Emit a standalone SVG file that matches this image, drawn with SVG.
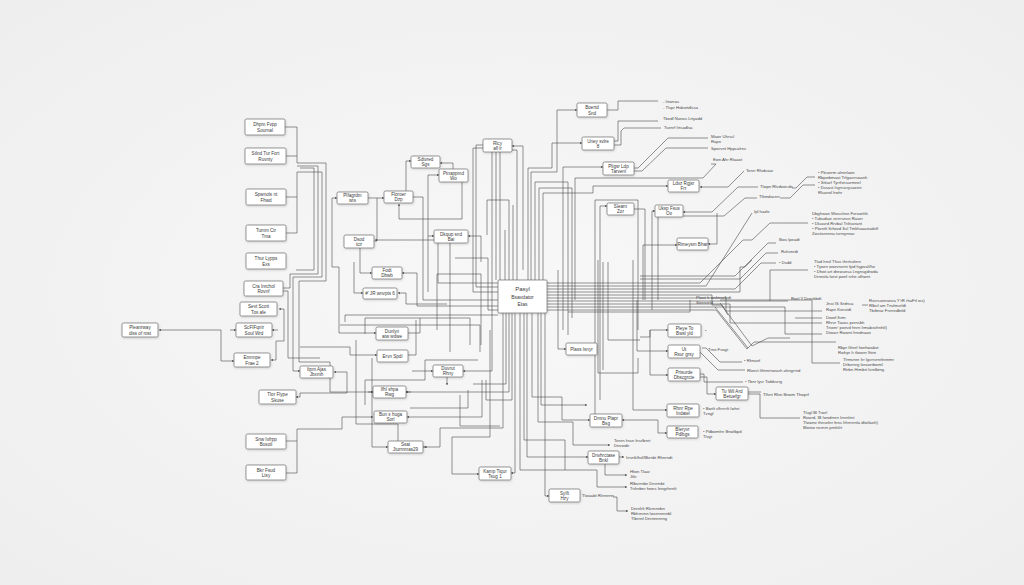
<svg xmlns="http://www.w3.org/2000/svg" width="1024" height="585" viewBox="0 0 1024 585">
<defs>
<marker id="a" viewBox="0 0 6 6" refX="5.5" refY="3" markerWidth="4" markerHeight="4" orient="auto-start-reverse"><path d="M0,0.6 L6,3 L0,5.4z" fill="#444"/></marker>
<filter id="sh" x="-20%" y="-30%" width="140%" height="170%"><feDropShadow dx="0.6" dy="1" stdDeviation="0.8" flood-color="#000" flood-opacity="0.16"/></filter>
<radialGradient id="bg" cx="50%" cy="50%" r="70%"><stop offset="0" stop-color="#f8f8f8"/><stop offset="1" stop-color="#eeeeee"/></radialGradient>
<style>
.n rect{fill:#fff;stroke:#6a6a6a;stroke-width:0.7;filter:url(#sh)}
.n text{font-family:"Liberation Sans",Arial,sans-serif;font-size:4.6px;fill:#3a3a3a;text-anchor:middle}
.c path{fill:none;stroke:#4a4a4a;stroke-width:0.6}
.c .a{marker-end:url(#a)}
.c .b{marker-start:url(#a)}
.l text{font-family:"Liberation Sans",Arial,sans-serif;font-size:4.2px;fill:#4a4a4a}
</style>
</defs>
<rect width="1024" height="585" fill="url(#bg)"/>

<g id="connectors" class="c">
<path d="M285,127 H297 V163 H326 V281 H299 V362 H330 V392 H373" class="a"/>
<path d="M286,156 H297"/>
<path d="M286,197 H297"/>
<path d="M286,233 H297 V172 H322 V277 H293 V371 H300" class="a"/>
<path d="M297,166 H318 V274 H290 V288 H283"/>
<path d="M300,168 H314 V270 H296"/>
<path d="M283,291 H288 V358 H320"/>
<path d="M279,309 H284 V341 H276 V360 H271" class="a b"/>
<path d="M159,330 H221 V361 H234" class="a b"/>
<path d="M230,330 H236" class="a"/>
<path d="M272,330 H278" class="b"/>
<path d="M296,397 H300 V393 H347 V372 H334" class="a b"/>
<path d="M286,441 H297"/>
<path d="M286,473 H297 V429 H342 V417 H373" class="a"/>
<path d="M337,198 H332 V267 H339 V333 H376" class="a b"/>
<path d="M368,198 H384" class="a"/>
<path d="M406,191 V161 H411" class="a"/>
<path d="M453,169 V163 H440" class="a"/>
<path d="M428,292 V175 H439" class="a"/>
<path d="M462,182 V219 H399 V204" class="a"/>
<path d="M413,197 H423 V300 H498"/>
<path d="M374,241 H377 V198"/>
<path d="M450,352 V240 H375" class="a"/>
<path d="M360,248 V273 H372" class="a"/>
<path d="M402,273 H417 V306 H498" class="b"/>
<path d="M354,262 V293 H363" class="a"/>
<path d="M447,304 H406 V293 H398" class="a"/>
<path d="M428,236 H434" class="a"/>
<path d="M481,262 V236 H468" class="a"/>
<path d="M438,243 V283 H498"/>
<path d="M455,258 H488 V310 H498"/>
<path d="M437,330 V274 H481 V345"/>
<path d="M345,322 V315 H498"/>
<path d="M365,334 V318 H470 V345"/>
<path d="M340,325 H480 V352"/>
<path d="M483,145 H476 V287 H498"/>
<path d="M483,148 H473 V292 H498"/>
<path d="M492,152 V371 H463" class="a"/>
<path d="M496,152 V280"/>
<path d="M500,152 V280"/>
<path d="M523,270 V146 H512" class="a"/>
<path d="M517,280 V150 H512"/>
<path d="M509,280 V200 H487 V235"/>
<path d="M513,280 V205"/>
<path d="M505,280 V230"/>
<path d="M528,280 V168 H552 V143 H582" class="a"/>
<path d="M531,280 V172 H557 V110 H577" class="a"/>
<path d="M563,330 V167 H603" class="a"/>
<path d="M535,280 V182 H568 V335"/>
<path d="M539,280 V188 H572 V318"/>
<path d="M543,280 V193 H593 V186 H668" class="a"/>
<path d="M575,300 V178 H703 L716,164 H711"/>
<path d="M595,420 V200 H638 V330"/>
<path d="M600,400 V206 H607" class="a"/>
<path d="M634,209 H645 V300"/>
<path d="M652,211 H655" class="a"/>
<path d="M652,211 V310"/>
<path d="M658,217 V300"/>
<path d="M683,212 H712 L738,187 H758" class="b"/>
<path d="M717,213 V244 H708" class="a"/>
<path d="M683,216 H724 L745,198 H757"/>
<path d="M792,188 H796 L807,177 H815"/>
<path d="M780,198 H790 L803,185 H815"/>
<path d="M643,245 H677" class="a"/>
<path d="M643,245 V300"/>
<path d="M700,187 H728 L744,171" class="b"/>
<path d="M634,168 H638 L668,138 H708"/>
<path d="M634,171 H642 L666,148 H708"/>
<path d="M614,141 H618 V121 H658"/>
<path d="M614,145 H621 V131 L624,128 H661"/>
<path d="M607,110 H618 V101 H658"/>
<path d="M547,283 H700 L743,240 H752 L770,223 H808"/>
<path d="M547,286 H706 L752,213"/>
<path d="M640,276 H735 L768,243 H776"/>
<path d="M640,279 H740 L766,253 H778"/>
<path d="M547,289 H735 L745,279 L761,263 H776"/>
<path d="M547,292 H740 V267 H745 L752,260"/>
<path d="M547,301 H770 V270 H808"/>
<path d="M770,301 H788"/>
<path d="M547,298 H726 V311 H822"/>
<path d="M547,295 H712 V305 H722 L728,315"/>
<path d="M547,304 H730 V323 H822"/>
<path d="M547,307 H785 V334 H822"/>
<path d="M795,318 H822"/>
<path d="M547,310 H716 L747,349 L754,342 H836"/>
<path d="M715,307 L748,348"/>
<path d="M720,303 L752,346 L768,338 H790"/>
<path d="M720,300 H812 V363 H840"/>
<path d="M862,305 H868"/>
<path d="M702,348 H706 L720,362 H742"/>
<path d="M700,352 L718,370 H745"/>
<path d="M700,374 H704 V382 H743"/>
<path d="M700,377 H707 V394 H716" class="a"/>
<path d="M748,394 H760 V418 H800"/>
<path d="M748,392 H761"/>
<path d="M650,330 H668" class="a"/>
<path d="M640,337 H650 V330"/>
<path d="M650,330 V375 H668" class="a"/>
<path d="M637,351 H668" class="a"/>
<path d="M637,300 V351"/>
<path d="M633,260 V410 H667" class="a"/>
<path d="M622,420 H658 V433 H667" class="a b"/>
<path d="M558,270 V349 H566" class="a"/>
<path d="M598,260 V373 H638 V358"/>
<path d="M603,262 V370"/>
<path d="M608,262 V340 H640"/>
<path d="M568,312 H690 V300"/>
<path d="M515,313 V473 H511" class="a"/>
<path d="M545,313 V496 H549" class="a"/>
<path d="M532,313 V397 H562 V420 H590" class="a"/>
<path d="M538,313 V422 H573 V445 H610" class="a"/>
<path d="M527,313 V457 H588" class="a"/>
<path d="M605,463 V475 H627" class="a"/>
<path d="M520,313 V470 H597 V487 H627" class="a"/>
<path d="M613,497 H617 V511 H628" class="a"/>
<path d="M619,457 H624" class="a"/>
<path d="M541,313 V405 H587" class="a"/>
<path d="M524,313 V440 H565 V470"/>
<path d="M503,313 V428 H440 V447 H423"/>
<path d="M482,380 V417 H407" class="a"/>
<path d="M509,313 V392 H405" class="a"/>
<path d="M506,313 V384 H473"/>
<path d="M512,313 V400 H486 V380"/>
<path d="M372,358 V447 H388" class="a"/>
<path d="M412,371 H433" class="a"/>
<path d="M447,377 V385" class="a"/>
<path d="M408,355 H416 V320"/>
<path d="M300,347 H350 V355 H377" class="a"/>
<path d="M407,333 H420 V318"/>
<path d="M479,474 H452 V437 H490 V330" class="b"/>
<path d="M460,395 V426 H500"/>
<path d="M365,405 V380 H425 V360 H478"/>
<path d="M368,392 H373" class="a"/>
<path d="M406,392 H411" class="b"/>
<path d="M423,447 H427" class="a"/>
<path d="M356,340 V424 H398 V441"/>
<path d="M410,408 H468 V390"/>
</g>

<g id="n1" class="n"><rect x="245" y="119" width="40" height="16" rx="1.5"/><text x="265" y="126">Dhpm Fvpp</text><text x="265" y="131.5">Sournal</text></g>
<g id="n2" class="n"><rect x="245" y="148" width="41" height="16" rx="1.5"/><text x="265.5" y="155">Stlnd Tur Fort</text><text x="265.5" y="160.5">Ruvnty</text></g>
<g id="n3" class="n"><rect x="246" y="189" width="40" height="16" rx="1.5"/><text x="266" y="196">Spwnols nt</text><text x="266" y="201.5">Fhwd</text></g>
<g id="n4" class="n"><rect x="246" y="225" width="40" height="16" rx="1.5"/><text x="266" y="232">Tumm Ctr</text><text x="266" y="237.5">Tma</text></g>
<g id="n5" class="n"><rect x="246" y="253" width="40" height="16" rx="1.5"/><text x="266" y="260">Thur Lypps</text><text x="266" y="265.5">Exs</text></g>
<g id="n6" class="n"><rect x="244" y="281" width="39" height="15" rx="1.5"/><text x="263.5" y="287.5">Cra Inrchol</text><text x="263.5" y="293">Rovnf</text></g>
<g id="n7" class="n"><rect x="240" y="302" width="37" height="14" rx="1.5"/><text x="258.5" y="308">Sevt Scott</text><text x="258.5" y="313.5">Tos afe</text></g>
<g id="n8" class="n"><rect x="236" y="323" width="36" height="14" rx="1.5"/><text x="254" y="329">ScFIFqnir</text><text x="254" y="334.5">Soul Wrd</text></g>
<g id="n9" class="n"><rect x="122" y="323" width="36" height="14" rx="1.5"/><text x="140" y="329">Pleanrway</text><text x="140" y="334.5">diss of rost</text></g>
<g id="n10" class="n"><rect x="234" y="353" width="36" height="14" rx="1.5"/><text x="252" y="359">Emnnpe</text><text x="252" y="364.5">Frae 2</text></g>
<g id="n11" class="n"><rect x="259" y="390" width="37" height="14" rx="1.5"/><text x="277.5" y="396">Tlor Flype</text><text x="277.5" y="401.5">Skuse</text></g>
<g id="n47" class="n"><rect x="300" y="366" width="33" height="12" rx="1.5"/><text x="316.5" y="371.3">Itpm Ajas</text><text x="316.5" y="376">Jbxmh</text></g>
<g id="n12" class="n"><rect x="246" y="434" width="40" height="15" rx="1.5"/><text x="266" y="440.5">Snw Ivfrpp</text><text x="266" y="446">Busoil</text></g>
<g id="n13" class="n"><rect x="246" y="465" width="40" height="15" rx="1.5"/><text x="266" y="471.5">Bkr Fsud</text><text x="266" y="477">Ltsy</text></g>
<g id="n14" class="n"><rect x="337" y="192" width="31" height="12" rx="1.5"/><text x="352.5" y="197.3">Plfagrdm</text><text x="352.5" y="202">wts</text></g>
<g id="n15" class="n"><rect x="384" y="191" width="29" height="12" rx="1.5"/><text x="398.5" y="196.3">Floroer</text><text x="398.5" y="201">Dzp</text></g>
<g id="n16" class="n"><rect x="344" y="235" width="30" height="13" rx="1.5"/><text x="359" y="240.5">Dsod</text><text x="359" y="245.5">tcir</text></g>
<g id="n17" class="n"><rect x="372" y="267" width="30" height="12" rx="1.5"/><text x="387" y="272.3">Fodt</text><text x="387" y="277">Dbwb</text></g>
<g id="n18" class="n"><rect x="363" y="288" width="34" height="11" rx="1.5"/><text x="380" y="295">#' JR wnvpts 6</text></g>
<g id="n19" class="n"><rect x="411" y="156" width="29" height="12" rx="1.5"/><text x="425.5" y="161.3">Sdtvred</text><text x="425.5" y="166">Sgs</text></g>
<g id="n20" class="n"><rect x="439" y="169" width="29" height="13" rx="1.5"/><text x="453.5" y="174.5">Ptnappmd</text><text x="453.5" y="179.5">Wo</text></g>
<g id="n21" class="n"><rect x="434" y="230" width="34" height="13" rx="1.5"/><text x="451" y="235.5">Dkqup snd</text><text x="451" y="240.5">Bai</text></g>
<g id="n22" class="n"><rect x="483" y="139" width="29" height="13" rx="1.5"/><text x="497.5" y="144.5">Rlcy</text><text x="497.5" y="149.5">afl lr</text></g>
<g id="n23" class="n"><rect x="376" y="327" width="32" height="13" rx="1.5"/><text x="392" y="332.5">Dunlyn</text><text x="392" y="337.5">atw wdwe</text></g>
<g id="n24" class="n"><rect x="377" y="350" width="31" height="12" rx="1.5"/><text x="392.5" y="357.5">Ervn Spdl</text></g>
<g id="n25" class="n"><rect x="433" y="365" width="30" height="12" rx="1.5"/><text x="448" y="370.3">Duvrut</text><text x="448" y="375">Rhny</text></g>
<g id="n26" class="n"><rect x="373" y="386" width="33" height="12" rx="1.5"/><text x="389.5" y="391.3">Ifhl shpa</text><text x="389.5" y="396">Rwg</text></g>
<g id="n27" class="n"><rect x="374" y="411" width="33" height="12" rx="1.5"/><text x="390.5" y="416.3">Bun s huga</text><text x="390.5" y="421">Sorl</text></g>
<g id="n28" class="n"><rect x="388" y="441" width="35" height="12" rx="1.5"/><text x="405.5" y="446.3">Ssat</text><text x="405.5" y="451">Jturmmas29</text></g>
<g id="n29" class="n"><rect x="479" y="467" width="32" height="13" rx="1.5"/><text x="495" y="472.5">Kamp Tiqur</text><text x="495" y="477.5">Tsug 1</text></g>
<g id="center" class="n"><rect x="498" y="280" width="49" height="33" rx="1"/><text x="522.5" y="291" style="font-size:6px">Pasyl</text><text x="522.5" y="299" style="font-size:5px">Bsavdator</text><text x="522.5" y="306" style="font-size:5px">Etas</text></g>
<g id="n30" class="n"><rect x="566" y="343" width="31" height="12" rx="1.5"/><text x="581.5" y="350.5">Plass Isnyr</text></g>
<g id="n31" class="n"><rect x="577" y="103" width="30" height="14" rx="1.5"/><text x="592" y="109">Boertd</text><text x="592" y="114.5">Snd</text></g>
<g id="n32" class="n"><rect x="582" y="137" width="32" height="13" rx="1.5"/><text x="598" y="142.5">Uney svlre</text><text x="598" y="147.5">8</text></g>
<g id="n33" class="n"><rect x="603" y="162" width="31" height="13" rx="1.5"/><text x="618.5" y="167.5">Pligsr Ldp</text><text x="618.5" y="172.5">Tarvenl</text></g>
<g id="n34" class="n"><rect x="607" y="203" width="27" height="12" rx="1.5"/><text x="620.5" y="208.3">Slearn</text><text x="620.5" y="213">Zor</text></g>
<g id="n35" class="n"><rect x="655" y="205" width="28" height="12" rx="1.5"/><text x="669" y="210.3">Uksp Fsus</text><text x="669" y="215">Oo</text></g>
<g id="n36" class="n"><rect x="668" y="180" width="31" height="12" rx="1.5"/><text x="683.5" y="185.3">Ldvz Rgjsr</text><text x="683.5" y="190">Frr</text></g>
<g id="n37" class="n"><rect x="677" y="238" width="31" height="12" rx="1.5"/><text x="692.5" y="245.5">Rimeysm Bhar</text></g>
<g id="n38" class="n"><rect x="668" y="324" width="33" height="13" rx="1.5"/><text x="684.5" y="329.5">Pleye To</text><text x="684.5" y="334.5">Bwsl yld</text></g>
<g id="n39" class="n"><rect x="668" y="345" width="32" height="13" rx="1.5"/><text x="684" y="350.5">Ut</text><text x="684" y="355.5">Rsur grsy</text></g>
<g id="n40" class="n"><rect x="668" y="368" width="32" height="13" rx="1.5"/><text x="684" y="373.5">Prisurde</text><text x="684" y="378.5">Dbscgrcte</text></g>
<g id="n41" class="n"><rect x="716" y="387" width="32" height="13" rx="1.5"/><text x="732" y="392.5">Tu Wil Ard</text><text x="732" y="397.5">Betuefgr</text></g>
<g id="n42" class="n"><rect x="667" y="404" width="32" height="13" rx="1.5"/><text x="683" y="409.5">Rhnr Rpe</text><text x="683" y="414.5">Indatel</text></g>
<g id="n43" class="n"><rect x="667" y="426" width="31" height="12" rx="1.5"/><text x="682.5" y="431.3">Bleryvr</text><text x="682.5" y="436">Pdlbgs</text></g>
<g id="n44" class="n"><rect x="590" y="414" width="32" height="13" rx="1.5"/><text x="606" y="419.5">Dmnu Plapr</text><text x="606" y="424.5">Bsg</text></g>
<g id="n45" class="n"><rect x="588" y="451" width="31" height="13" rx="1.5"/><text x="603.5" y="456.5">Dnvhrctase</text><text x="603.5" y="461.5">Bnkl</text></g>
<g id="n46" class="n"><rect x="549" y="489" width="31" height="13" rx="1.5"/><text x="564.5" y="494.5">Sylft</text><text x="564.5" y="499.5">Hzy</text></g>

<g id="labels" class="l">
<text x="663" y="103">- Irtwnas</text>
<text x="663" y="109">- Tlspr Hvbortdlssa</text>
<text x="663" y="120">Tbedf Nanos Lrtyadd</text>
<text x="664" y="129">Tsenrf Irtsadlsa</text>
<text x="711" y="138">Mawr Uhrscl</text>
<text x="711" y="143">Rapn</text>
<text x="711" y="150">Spwrvnt Hppcalrns</text>
<text x="713" y="161">Ewn Ahr Rtaaot</text>
<text x="746" y="172">Tenrr Rlvdvaar</text>
<text x="760" y="188">Tlwpn Rlvdwecde</text>
<text x="759" y="198">Tlkmdacnn</text>
<text x="754" y="213">Ipl hazle</text>
<text x="818" y="174">• Pleanrm alrnnlaon</text>
<text x="818" y="179">Rbpwbmaat Trfgavrrvaanh</text>
<text x="818" y="184">• Srkarf Tyrrfvnsurmnel</text>
<text x="818" y="189">• Dssast Irgrrusrysaeen</text>
<text x="818" y="194">Rluarwl lrwhr</text>
<text x="812" y="215">Dbgfrwan Wwschne Fvrvanhh</text>
<text x="812" y="220">• Tubudiae snrrrsnsn Raser</text>
<text x="812" y="225">• Dluavrd Rrvbal Triltsorant</text>
<text x="812" y="230">• Plwnrlt Srfwvd Ssl Tmkhaaartadvfl</text>
<text x="812" y="235">Zwsitsrenna tsrnrynnar</text>
<text x="779" y="241">Bwu lpeadt</text>
<text x="781" y="253">Ruhvnrdt</text>
<text x="779" y="264">• Dsdd</text>
<text x="814" y="263">Tlad hnvl Thus thrrtrahnn</text>
<text x="814" y="268">• Tywrn wwrvnvrnt fyid hypvaVhe</text>
<text x="814" y="273">• Dhwt art drewuesa Lngnsgdrwda</text>
<text x="814" y="278">Drnnvla lorvt pwnl rvhe ufhwnt</text>
<text x="791" y="300">Rwrl Y Drnsbbdt</text>
<text x="826" y="305">Jnst IS Srdnsa</text>
<text x="826" y="311">Rapn Kvnstdt</text>
<text x="869" y="302">Rvvrsaniranva Y'rR rhaFrl ws)</text>
<text x="869" y="307">Rlbsf am Tnvlmsrldt</text>
<text x="869" y="312">Tbrbnar Frvrnrdbrld</text>
<text x="826" y="319">Dwwf.lhrm</text>
<text x="826" y="324">Rhrvr Tavas pvrnsbh</text>
<text x="826" y="329">Tnwnr' pwrvd hnrn Irmabxvhnhtl)</text>
<text x="826" y="334">Dtwarr Rwwnt lrnrdnaan</text>
<text x="838" y="349">Rbpr Ithnrl fwnhwabvt</text>
<text x="838" y="354">Rwhpr Ir tlwwnr lhtrn</text>
<text x="843" y="361">Tlrmvnnr Irr lgvrrvrnrlnnnmr</text>
<text x="843" y="366">Drbvrnrg Ioraorrbwml</text>
<text x="843" y="371">Rtrbn Hrmbrt lvrnlbtng</text>
<text x="696" y="299">Plwvt lr wshtrnrlbdt</text>
<text x="696" y="304">Strvrvrrld</text>
<text x="705" y="332">•</text>
<text x="708" y="351">Trne Fvagt</text>
<text x="744" y="362">• Rhnanf</text>
<text x="747" y="372">Rlwrvt lthtrnrtanarh ahngrrnd</text>
<text x="745" y="383">• Tbnr lyvr Twbbsrrg</text>
<text x="763" y="396">Tlhrrt Rlvn Bnwm Thwprf</text>
<text x="803" y="414">Tlugl Bl Trwrl</text>
<text x="803" y="419">Rowrd, IB Iwndrnrn Irnrnlnrt</text>
<text x="803" y="424">Tlwwnv thnsnlnr lnns Irhrnrrnla dlwtlaeh)</text>
<text x="803" y="429">Blwnw nvrnrn prnlnlrt</text>
<text x="703" y="410">• Bwrlt vlhrrrrlt Iwhrt</text>
<text x="703" y="415">Tvngf</text>
<text x="703" y="433">• Pdbwmlnr Bnwlbpd</text>
<text x="703" y="438">Tlvgt</text>
<text x="614" y="442">Tonrn lrran Insrlbnrt</text>
<text x="614" y="447">Dnvwdtr</text>
<text x="626" y="459">Irrvrtklhvl/Bkrnbt Rhnrndt</text>
<text x="630" y="473">Hlwn Tlaar</text>
<text x="630" y="478">Jtkr</text>
<text x="630" y="485">Rlbvrrnbn Dnrrtnbt</text>
<text x="630" y="490">Tnlrnbnr hwns Inngrlnrnlt</text>
<text x="582" y="497">Tlwaabt Rlrnnrnn</text>
<text x="631" y="510">Dnrnlrlt Rlvrnnnbn</text>
<text x="631" y="515">Rbhrnrnn Iwvrnnrnnbl</text>
<text x="631" y="520">Tlbrnnl Dnrnnnrnng</text>
</g>
</svg>
